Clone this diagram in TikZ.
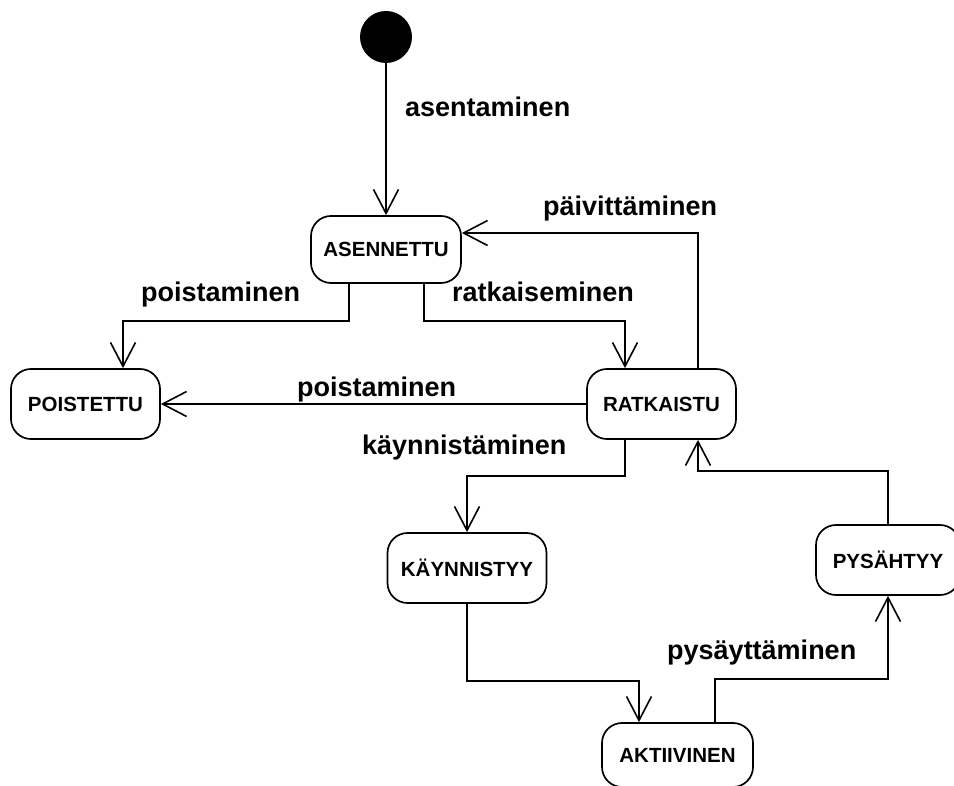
\documentclass[tikz,border=0pt]{standalone}
\usepackage{fontspec}
\setmainfont{Liberation Sans}
\usetikzlibrary{arrows.meta,calc}

\tikzset{
  statebox/.style={draw, line width=1.7pt, rounded corners=20pt, inner sep=0pt,
    minimum height=70pt, font=\fontsize{20.5}{22}\selectfont\bfseries},
  lbl/.style={anchor=base west, inner sep=0pt, font=\fontsize{27}{30}\selectfont\bfseries},
  flow/.style={line width=1.6pt, -{Straight Barb[length=24pt,width=25pt,line width=1.6pt]}},
}

\begin{document}
\begin{tikzpicture}[x=1pt, y=-1pt]
  \clip (0,0) rectangle (954,786);
  \fill[white] (0,0) rectangle (954,786);

  % initial state
  \node[circle, fill=black, minimum size=52pt, inner sep=0pt] (init) at (386,37) {};

  % states
  \node[statebox, minimum width=150pt, minimum height=67pt] (asen) at (386,249.5) {ASENNETTU};
  \node[statebox, minimum width=149pt] (poist) at (85.5,404) {POISTETTU};
  \node[statebox, minimum width=149pt] (ratk) at (661.5,404) {RATKAISTU};
  \node[statebox, minimum width=159pt] (kayn) at (467,568) {KÄYNNISTYY};
  \node[statebox, minimum width=151pt, minimum height=64pt] (akt) at (677.5,755) {AKTIIVINEN};
  \node[statebox, minimum width=144pt] (pys) at (888,560) {PYSÄHTYY};

  % transitions
  \draw[flow] (init.south) -- (asen.north);
  \draw[flow] ($(asen.south)+(-37,0)$) -- ++(0,37) -| ($(poist.north)+(37.5,0)$);
  \draw[flow] ($(asen.south)+(38,0)$) -- ++(0,37) -| ($(ratk.north)+(-36.5,0)$);
  \draw[flow] ($(ratk.north)+(36.5,0)$) |- ($(asen.east)+(0,-16.5)$);
  \draw[flow] (ratk.west) -- (poist.east);
  \draw[flow] ($(ratk.south)+(-36.5,0)$) -- ++(0,36) -| (kayn.north);
  \draw[flow] (kayn.south) -- ++(0,77) -| ($(akt.north)+(-38.5,0)$);
  \draw[flow] ($(akt.north)+(37.5,0)$) -- ++(0,-43) -| (pys.south);
  \draw[flow] (pys.north) -- ++(0,-53) -| ($(ratk.south)+(36.5,0)$);

  % transition labels
  \node[lbl] (l1) at (405,117) {asentaminen};
  \node[lbl] (l2) at (543,216) {päivittäminen};
  \node[lbl] (l3) at (141,302) {poistaminen};
  \node[lbl] (l4) at (452,302) {ratkaiseminen};
  \node[lbl] (l5) at (297,397) {poistaminen};
  \node[lbl] (l6) at (362,455) {käynnistäminen};
  \node[lbl] (l7) at (667,659) {pysäyttäminen};
\end{tikzpicture}
\end{document}
